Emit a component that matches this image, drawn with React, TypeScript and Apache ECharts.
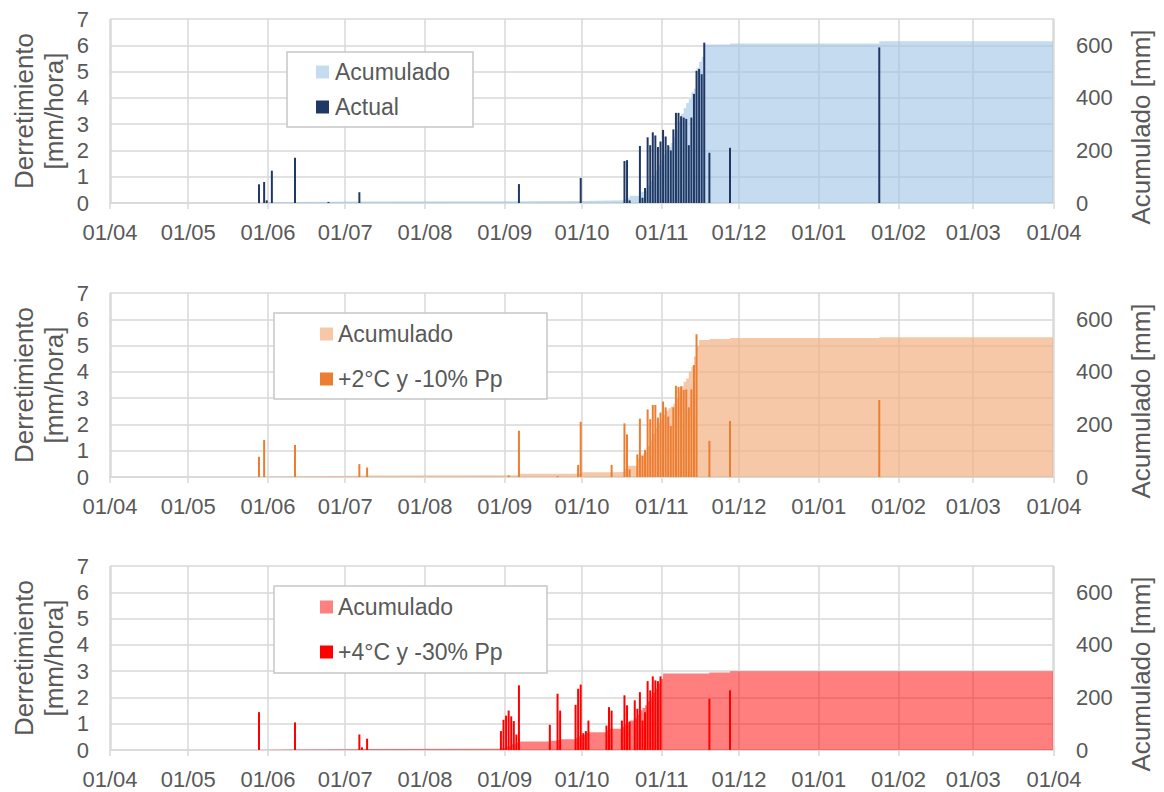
import React, { useEffect, useRef } from 'react';
import * as echarts from 'echarts';

// Hydrological year shown on every panel
const START = '2019-04-01';
const END = '2020-04-01';

// Daily peak melt rate [mm/hora] – current climate
const actualMelt: [string, number][] = [
  ['2019-05-28', 0.71], ['2019-05-30', 0.8], ['2019-05-31', 0.1], ['2019-06-02', 1.23],
  ['2019-06-11', 1.72], ['2019-06-24', 0.04], ['2019-07-06', 0.41], ['2019-09-06', 0.72],
  ['2019-09-30', 0.95], ['2019-10-17', 1.6], ['2019-10-18', 1.63], ['2019-10-19', 0.1],
  ['2019-10-23', 2.17], ['2019-10-24', 0.2], ['2019-10-25', 0.57], ['2019-10-26', 2.5],
  ['2019-10-27', 2.2], ['2019-10-28', 2.69], ['2019-10-29', 2.57], ['2019-10-30', 2.13],
  ['2019-10-31', 2.34], ['2019-11-01', 2.78], ['2019-11-02', 2.53], ['2019-11-03', 2.2],
  ['2019-11-04', 2.0], ['2019-11-05', 2.8], ['2019-11-06', 3.43], ['2019-11-07', 3.43],
  ['2019-11-08', 3.3], ['2019-11-09', 3.25], ['2019-11-10', 3.2], ['2019-11-11', 2.2],
  ['2019-11-12', 3.25], ['2019-11-13', 4.15], ['2019-11-14', 5.03], ['2019-11-15', 5.1],
  ['2019-11-16', 4.9], ['2019-11-17', 6.1], ['2019-11-19', 1.91], ['2019-11-27', 2.1],
  ['2020-01-24', 5.92],
];

// Accumulated melt [mm] – current climate
const actualCumulative: [string, number][] = [
  ['2019-04-01', 0], ['2019-05-28', 1], ['2019-05-30', 3], ['2019-06-02', 4],
  ['2019-06-11', 6], ['2019-07-06', 7], ['2019-09-06', 8], ['2019-09-30', 10],
  ['2019-10-17', 14], ['2019-10-18', 20], ['2019-10-19', 28], ['2019-10-23', 43],
  ['2019-10-25', 48], ['2019-10-26', 65], ['2019-10-27', 85], ['2019-10-28', 105],
  ['2019-10-29', 125], ['2019-10-30', 145], ['2019-10-31', 165], ['2019-11-01', 185],
  ['2019-11-02', 200], ['2019-11-03', 213], ['2019-11-04', 228], ['2019-11-05', 250],
  ['2019-11-06', 280], ['2019-11-07', 310], ['2019-11-08', 340], ['2019-11-09', 360],
  ['2019-11-10', 380], ['2019-11-11', 395], ['2019-11-12', 420], ['2019-11-13', 435],
  ['2019-11-14', 515], ['2019-11-15', 537], ['2019-11-16', 556], ['2019-11-17', 603],
  ['2019-11-27', 607], ['2020-01-24', 615], ['2020-04-01', 615],
];

// Daily peak melt rate [mm/hora] – +2°C and -10% precipitation
const warm2Melt: [string, number][] = [
  ['2019-05-28', 0.77], ['2019-05-30', 1.41], ['2019-06-11', 1.22], ['2019-07-06', 0.49],
  ['2019-07-09', 0.36], ['2019-09-02', 0.06], ['2019-09-06', 1.76], ['2019-09-21', 0.04],
  ['2019-09-29', 0.46], ['2019-09-30', 2.1], ['2019-10-12', 0.46], ['2019-10-17', 2.04],
  ['2019-10-18', 1.62], ['2019-10-19', 0.29], ['2019-10-22', 0.86], ['2019-10-23', 2.22],
  ['2019-10-24', 0.8], ['2019-10-25', 1.03], ['2019-10-26', 2.57], ['2019-10-27', 2.2],
  ['2019-10-28', 2.74], ['2019-10-29', 2.74], ['2019-10-30', 2.26], ['2019-10-31', 2.45],
  ['2019-11-01', 2.87], ['2019-11-02', 2.65], ['2019-11-03', 2.3], ['2019-11-04', 1.94],
  ['2019-11-05', 2.65], ['2019-11-06', 3.47], ['2019-11-07', 3.43], ['2019-11-08', 3.45],
  ['2019-11-09', 3.31], ['2019-11-10', 3.33], ['2019-11-11', 2.65], ['2019-11-12', 3.33],
  ['2019-11-13', 4.26], ['2019-11-14', 5.43], ['2019-11-19', 1.38], ['2019-11-27', 2.13],
  ['2020-01-24', 2.93],
];

// Accumulated melt [mm] – +2°C and -10% precipitation
const warm2Cumulative: [string, number][] = [
  ['2019-04-01', 0], ['2019-05-28', 1], ['2019-05-30', 3], ['2019-06-11', 5],
  ['2019-07-06', 6], ['2019-07-09', 7], ['2019-09-06', 12], ['2019-09-29', 14],
  ['2019-09-30', 18], ['2019-10-12', 19], ['2019-10-17', 30], ['2019-10-18', 43],
  ['2019-10-22', 70], ['2019-10-23', 84], ['2019-10-24', 88], ['2019-10-25', 95],
  ['2019-10-26', 118], ['2019-10-27', 140], ['2019-10-28', 165], ['2019-10-29', 188],
  ['2019-10-30', 205], ['2019-10-31', 220], ['2019-11-01', 238], ['2019-11-02', 252],
  ['2019-11-03', 262], ['2019-11-04', 267], ['2019-11-05', 280], ['2019-11-06', 300],
  ['2019-11-07', 322], ['2019-11-08', 345], ['2019-11-09', 362], ['2019-11-10', 375],
  ['2019-11-11', 400], ['2019-11-12', 420], ['2019-11-13', 458], ['2019-11-14', 496],
  ['2019-11-15', 521], ['2019-11-19', 525], ['2019-11-27', 529], ['2020-01-24', 532],
  ['2020-04-01', 532],
];

// Daily peak melt rate [mm/hora] – +4°C and -30% precipitation
const warm4Melt: [string, number][] = [
  ['2019-05-28', 1.44], ['2019-06-11', 1.05], ['2019-07-06', 0.59], ['2019-07-07', 0.1],
  ['2019-07-09', 0.43], ['2019-08-30', 0.72], ['2019-08-31', 1.15], ['2019-09-01', 1.31],
  ['2019-09-02', 1.5], ['2019-09-03', 1.28], ['2019-09-04', 1.1], ['2019-09-05', 0.59],
  ['2019-09-06', 2.46], ['2019-09-18', 0.96], ['2019-09-21', 2.14], ['2019-09-22', 1.5],
  ['2019-09-28', 1.72], ['2019-09-29', 2.33], ['2019-09-30', 2.49], ['2019-10-01', 0.64],
  ['2019-10-02', 0.72], ['2019-10-03', 1.12], ['2019-10-10', 0.93], ['2019-10-11', 1.63],
  ['2019-10-12', 1.5], ['2019-10-16', 1.12], ['2019-10-17', 2.08], ['2019-10-18', 1.7],
  ['2019-10-19', 1.08], ['2019-10-21', 1.89], ['2019-10-22', 1.57], ['2019-10-23', 2.2],
  ['2019-10-24', 1.12], ['2019-10-25', 1.44], ['2019-10-26', 2.62], ['2019-10-27', 2.27],
  ['2019-10-28', 2.8], ['2019-10-29', 2.65], ['2019-10-30', 2.62], ['2019-10-31', 2.8],
  ['2019-11-19', 1.95], ['2019-11-27', 2.27],
];

// Accumulated melt [mm] – +4°C and -30% precipitation
const warm4Cumulative: [string, number][] = [
  ['2019-04-01', 0], ['2019-05-28', 2], ['2019-06-11', 3], ['2019-07-06', 4],
  ['2019-07-09', 5], ['2019-08-30', 8], ['2019-09-01', 14], ['2019-09-03', 22],
  ['2019-09-05', 28], ['2019-09-06', 32], ['2019-09-18', 35], ['2019-09-21', 38],
  ['2019-09-22', 41], ['2019-09-28', 46], ['2019-09-29', 52], ['2019-09-30', 58],
  ['2019-10-02', 65], ['2019-10-03', 68], ['2019-10-10', 75], ['2019-10-11', 81],
  ['2019-10-16', 88], ['2019-10-17', 97], ['2019-10-18', 105], ['2019-10-19', 112],
  ['2019-10-21', 119], ['2019-10-22', 135], ['2019-10-23', 151], ['2019-10-24', 160],
  ['2019-10-25', 170], ['2019-10-26', 185], ['2019-10-27', 202], ['2019-10-28', 218],
  ['2019-10-29', 234], ['2019-10-30', 252], ['2019-10-31', 270], ['2019-11-01', 291],
  ['2019-11-19', 295], ['2019-11-27', 300], ['2020-04-01', 300],
];

const cumulativeName = 'Acumulado';
const scenarioNames = ['Actual', '+2°C y -10% Pp', '+4°C y -30% Pp'];
const leftTitle = ['Derretimiento', '[mm/hora]'];
const rightTitle = 'Acumulado [mm]';

const FONT = '"Liberation Sans", Arial, Helvetica, sans-serif';
const TEXT = '#595959';
const GRID = '#d9d9d9';
const DAY = 86400000;

const panels = [
  {
    melt: actualMelt, cumulative: actualCumulative, name: scenarioNames[0],
    barColor: '#1f3864', areaColor: 'rgba(157,195,230,0.6)', swatch: '#c4dbf0',
    top: 19, legend: { x: 287, y: 52, w: 186, h: 75, sx: 316, tx: 335, rows: [72, 107] },
  },
  {
    melt: warm2Melt, cumulative: warm2Cumulative, name: scenarioNames[1],
    barColor: '#ed7d31', areaColor: 'rgba(244,177,131,0.7)', swatch: '#f7c8a8',
    top: 293, legend: { x: 274, y: 313, w: 273, h: 86, sx: 320, tx: 338, rows: [334, 379] },
  },
  {
    melt: warm4Melt, cumulative: warm4Cumulative, name: scenarioNames[2],
    barColor: '#ff0000', areaColor: 'rgba(255,0,0,0.5)', swatch: '#ff8080',
    top: 566, legend: { x: 274, y: 586, w: 273, h: 87, sx: 320, tx: 338, rows: [607, 652] },
  },
];

const PLOT_H = 184;
const SIDE = 110;

function dayTime(day: string, hour = 0): number {
  const [y, m, d] = day.split('-').map(Number);
  return new Date(y, m - 1, d, hour).getTime();
}

const pad = (n: number) => (n < 10 ? '0' + n : String(n));

// dd/MM of the nearest midnight, so a tick sitting a few hours off still reads as its day
function dayLabel(v: number): string {
  const dt = new Date(v + DAY / 2);
  return pad(dt.getDate()) + '/' + pad(dt.getMonth() + 1);
}

function buildOption() {
  const grid: any[] = [];
  const xAxis: any[] = [];
  const yAxis: any[] = [];
  const series: any[] = [];
  const graphic: any[] = [];
  const tMin = dayTime(START);
  const tMax = dayTime(END);

  panels.forEach((p, i) => {
    grid.push({ left: SIDE, right: SIDE, top: p.top, height: PLOT_H, containLabel: false });

    xAxis.push({
      type: 'time',
      gridIndex: i,
      min: tMin,
      max: tMax,
      splitNumber: 12,
      minInterval: 28 * DAY,
      axisLine: { show: true, lineStyle: { color: GRID, width: 1.5 } },
      axisTick: { show: true, length: 6, lineStyle: { color: GRID, width: 1.5 } },
      axisLabel: {
        color: TEXT,
        fontSize: 22,
        fontFamily: FONT,
        fontWeight: 'normal',
        margin: 18,
        hideOverlap: false,
        showMinLabel: true,
        showMaxLabel: true,
        formatter: dayLabel,
      },
      splitLine: { show: true, lineStyle: { color: GRID, width: 1.5 } },
    });

    yAxis.push({
      type: 'value',
      gridIndex: i,
      position: 'left',
      min: 0,
      max: 7,
      interval: 1,
      axisLine: { show: false },
      axisTick: { show: false },
      axisLabel: { color: TEXT, fontSize: 22, fontFamily: FONT, margin: 21 },
      splitLine: { show: true, lineStyle: { color: GRID, width: 1.5 } },
    });
    yAxis.push({
      type: 'value',
      gridIndex: i,
      position: 'right',
      min: 0,
      max: 700,
      interval: 100,
      axisLine: { show: false },
      axisTick: { show: false },
      axisLabel: {
        color: TEXT,
        fontSize: 22,
        fontFamily: FONT,
        margin: 22,
        formatter: (v: number) => (v % 200 === 0 && v < 700 ? String(v) : ''),
      },
      splitLine: { show: false },
    });

    const last = p.cumulative.length - 1;
    series.push({
      type: 'line',
      name: cumulativeName,
      xAxisIndex: i,
      yAxisIndex: 2 * i + 1,
      step: 'end',
      symbol: 'none',
      silent: true,
      z: 2,
      lineStyle: { width: 0, opacity: 0 },
      areaStyle: { color: p.areaColor, opacity: 1 },
      data: p.cumulative.map(([d, v], k) => [k === 0 || k === last ? dayTime(d) : dayTime(d, 12), v]),
    });
    series.push({
      type: 'bar',
      name: p.name,
      xAxisIndex: i,
      yAxisIndex: 2 * i,
      barWidth: 2,
      silent: true,
      z: 3,
      itemStyle: { color: p.barColor },
      data: p.melt.map(([d, v]) => [dayTime(d, 12), v]),
    });

    // axis titles
    const midPlot = p.top + PLOT_H / 2;
    graphic.push({
      type: 'text', x: 24, y: midPlot, rotation: Math.PI / 2,
      style: { text: leftTitle[0], fill: TEXT, fontSize: 26, fontFamily: FONT, align: 'center', verticalAlign: 'middle' },
    });
    graphic.push({
      type: 'text', x: 54, y: midPlot, rotation: Math.PI / 2,
      style: { text: leftTitle[1], fill: TEXT, fontSize: 26, fontFamily: FONT, align: 'center', verticalAlign: 'middle' },
    });
    graphic.push({
      type: 'text', x: 1141, y: midPlot + 16, rotation: Math.PI / 2,
      style: { text: rightTitle, fill: TEXT, fontSize: 26, fontFamily: FONT, align: 'center', verticalAlign: 'middle' },
    });

    // legend box
    const L = p.legend;
    graphic.push({
      type: 'rect', z: 10,
      shape: { x: L.x, y: L.y, width: L.w, height: L.h },
      style: { fill: '#ffffff', stroke: '#c8c8c8', lineWidth: 1.5 },
    });
    [
      { label: cumulativeName, color: p.swatch },
      { label: p.name, color: p.barColor },
    ].forEach((item, k) => {
      graphic.push({
        type: 'rect', z: 11,
        shape: { x: L.sx, y: L.rows[k] - 6.5, width: 13, height: 13 },
        style: { fill: item.color },
      });
      graphic.push({
        type: 'text', z: 11, x: L.tx, y: L.rows[k],
        style: { text: item.label, fill: TEXT, fontSize: 23, fontFamily: FONT, align: 'left', verticalAlign: 'middle' },
      });
    });
  });

  return {
    animation: false,
    backgroundColor: '#ffffff',
    textStyle: { fontFamily: FONT },
    grid,
    xAxis,
    yAxis,
    series,
    graphic,
  };
}

export default function App() {
  const ref = useRef<HTMLDivElement>(null);
  useEffect(() => {
    if (!ref.current) return;
    const chart = echarts.init(ref.current, undefined, { renderer: 'svg' });
    chart.setOption(buildOption());
    return () => chart.dispose();
  }, []);
  return (
    <div
      ref={ref}
      style={{ position: 'absolute', left: 0, top: 0, width: 1164, height: 792, background: '#fff' }}
    />
  );
}
